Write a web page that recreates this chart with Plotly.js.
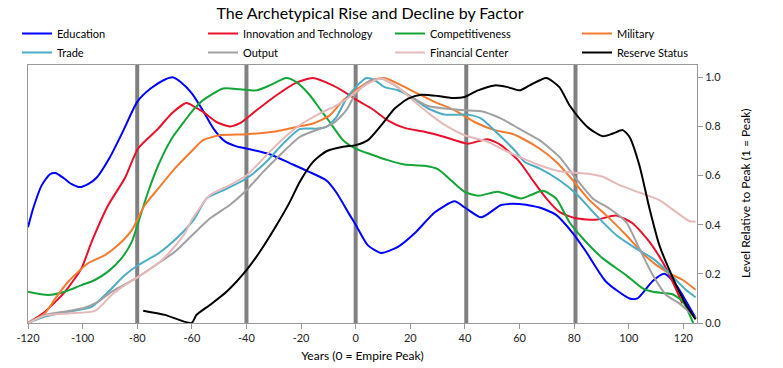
<!DOCTYPE html>
<html>
<head>
<meta charset="utf-8">
<script src="https://cdn.plot.ly/plotly-3.0.1.min.js"></script>
<style>html,body{margin:0;padding:0;background:#fff;}#chart{width:783px;height:368px;}</style>
</head>
<body>
<div id="chart"></div>
<script>
// Series names and colours
const seriesNames = ["Education","Innovation and Technology","Competitiveness","Military","Trade","Output","Financial Center","Reserve Status"];
const seriesColors = ["#0000FF","#E8102A","#13A538","#F47A30","#4BACC6","#A0A0A0","#E6B9B8","#000000"];

// Years (0 = Empire Peak) and levels
const educationX = [-120,-118,-115,-112,-110,-107,-104,-101,-98,-95,-90,-85,-80,-75,-70,-67,-64,-60,-56,-52,-48,-44,-40,-31.5,-24,-17,-10.7,-7,-2.2,0,4.4,9.4,15.5,21.6,28.9,36.2,40,46,53.3,60,67.3,73.4,79.5,84.4,91.7,100.3,103.2,108.7,113,117.3,124.5];
const educationY = [0.39,0.47,0.56,0.605,0.61,0.59,0.565,0.553,0.565,0.59,0.675,0.785,0.9,0.955,0.99,1.0,0.98,0.935,0.866,0.79,0.74,0.72,0.71,0.687,0.65,0.615,0.58,0.53,0.44,0.40,0.317,0.285,0.31,0.365,0.45,0.495,0.47,0.43,0.48,0.484,0.47,0.44,0.366,0.29,0.168,0.10,0.10,0.17,0.20,0.155,0.02];

const innovationX = [-120,-113.8,-106.5,-100.4,-96.7,-90.6,-84.5,-79.7,-72.4,-67.4,-62,-59,-56,-51,-46,-42.4,-36.3,-29,-21.7,-15.7,-8.4,-2.2,0,5.7,11.7,17.9,25.2,32.6,41,48.3,53.3,60,64.9,69.8,74.6,80.7,88,95.4,101.4,107.6,112.3,116,119.6];
const innovationY = [0,0.046,0.127,0.223,0.33,0.48,0.59,0.71,0.79,0.853,0.895,0.88,0.86,0.818,0.80,0.813,0.866,0.927,0.978,0.997,0.967,0.927,0.91,0.874,0.825,0.794,0.778,0.757,0.73,0.748,0.723,0.656,0.58,0.507,0.452,0.426,0.42,0.437,0.406,0.33,0.25,0.17,0.08];

const competitivenessX = [-120,-112.6,-106.5,-100.4,-95.5,-90.6,-85.7,-82,-79.6,-76,-72.3,-67.4,-63.8,-60,-56,-48.5,-42.4,-36.3,-31.5,-25.4,-21.7,-16.8,-13.2,-9.5,-4.6,0,5.7,11.8,17.9,25.2,30.1,35,39.9,44.8,52,60.6,64,68.5,73.4,78.3,83.2,90.5,99,105.1,108.8,116,119.8,123.6];
const competitivenessY = [0.127,0.114,0.127,0.154,0.175,0.21,0.264,0.33,0.41,0.534,0.642,0.75,0.805,0.86,0.906,0.954,0.951,0.947,0.967,0.997,0.98,0.927,0.873,0.818,0.744,0.71,0.686,0.663,0.645,0.64,0.626,0.58,0.534,0.518,0.534,0.507,0.52,0.538,0.507,0.41,0.344,0.263,0.195,0.141,0.127,0.117,0.087,0];

const militaryX = [-120,-113.8,-110,-105.3,-98,-91.8,-87,-82,-77.2,-72.3,-66.2,-60,-55.9,-49.8,-40,-30.3,-21.7,-15.6,-9.5,-4.6,0,5.7,10.6,15.5,21.6,28.9,36.2,43.5,50.9,57,60,67.3,73.4,79.5,85.6,91.7,99,106.4,113.7,119.8,124.5];
const militaryY = [0,0.04,0.10,0.168,0.243,0.276,0.317,0.378,0.48,0.547,0.629,0.70,0.744,0.764,0.768,0.778,0.798,0.812,0.845,0.906,0.947,0.988,0.997,0.974,0.94,0.90,0.866,0.818,0.785,0.771,0.757,0.71,0.656,0.581,0.50,0.439,0.358,0.27,0.209,0.175,0.135];

const tradeX = [-120,-113.8,-105.3,-96.7,-90.6,-84.5,-79.6,-72.3,-65,-59,-54.6,-48.5,-40,-32.7,-26.6,-20.5,-14.4,-10.7,-7,-3.4,0,3.9,7,10.6,15.5,20.4,26.5,32.6,41.1,46,52,58.2,61.8,67.3,74.6,80.7,88,95.4,102.7,108.8,114.9,121,124.5];
const tradeY = [0,0.026,0.046,0.066,0.127,0.195,0.236,0.283,0.351,0.425,0.507,0.54,0.588,0.656,0.73,0.789,0.791,0.798,0.839,0.913,0.96,0.997,0.988,0.96,0.947,0.92,0.873,0.848,0.848,0.832,0.771,0.703,0.656,0.629,0.581,0.527,0.439,0.358,0.303,0.263,0.202,0.134,0.105];

const outputX = [-120,-113.8,-105.3,-99.2,-94.3,-89.4,-84.5,-79.6,-72.3,-66.2,-60,-53.4,-46.1,-40,-33.9,-27.8,-20.5,-14.4,-8.3,-3.4,0,4.5,9.4,14.3,20.4,26.5,32.6,39.9,46,53.3,60,67.3,74.6,80.7,86.8,92.9,99,103.9,108.8,113.7,118.5,124.5];
const outputY = [0,0.033,0.049,0.062,0.087,0.127,0.157,0.188,0.243,0.29,0.356,0.425,0.48,0.54,0.615,0.683,0.757,0.785,0.812,0.866,0.934,0.98,0.995,0.967,0.92,0.883,0.873,0.866,0.862,0.832,0.79,0.744,0.676,0.588,0.507,0.466,0.412,0.303,0.195,0.114,0.08,0.02];

const financialX = [-120,-113.8,-105.3,-95.5,-89.4,-84.5,-79.6,-72.3,-67.4,-62.6,-60,-53.4,-46.1,-40,-32.7,-26.6,-20.5,-13.2,-7,-2.2,0,4.5,9.4,15.5,21.6,27.7,33.8,39.9,48.4,54.5,60,67.3,74.6,84.4,90.5,96.6,103.9,111.2,117.3,122.2,124.5];
const financialY = [0,0.03,0.039,0.049,0.114,0.154,0.188,0.243,0.297,0.364,0.42,0.52,0.561,0.60,0.683,0.75,0.805,0.852,0.886,0.92,0.94,0.974,0.995,0.96,0.90,0.845,0.798,0.764,0.737,0.703,0.676,0.642,0.618,0.608,0.595,0.561,0.531,0.50,0.452,0.415,0.412];

const reserveX = [-77.8,-69.9,-60.1,-58.3,-53.4,-47.3,-40,-35.1,-29,-24.1,-20.5,-15.6,-10.7,-4.6,0,4.5,9.4,14.3,19.2,24,30.1,35,39.9,44.8,50.9,55.7,60,63.7,69.8,74.6,78.3,82,85.6,90.5,94.2,97.8,100.3,103.9,107.6,111.2,116,121,124.5];
const reserveY = [0.05,0.033,0.0,0.033,0.073,0.127,0.215,0.29,0.398,0.493,0.574,0.656,0.699,0.717,0.724,0.744,0.805,0.873,0.913,0.929,0.924,0.916,0.92,0.947,0.967,0.96,0.947,0.967,0.997,0.96,0.886,0.832,0.791,0.76,0.771,0.785,0.757,0.642,0.466,0.317,0.188,0.073,0.015];

// Vertical era markers (years)
const eraLines = [-80,-40,0,40.5,80.5];
const xTicks = [-120,-100,-80,-60,-40,-20,0,20,40,60,80,100,120];
const yTicks = [0,0.2,0.4,0.6,0.8,1.0];
const yTitle = 'Level Relative to Peak (1 = Peak)';

const allX = [educationX,innovationX,competitivenessX,militaryX,tradeX,outputX,financialX,reserveX];
const allY = [educationY,innovationY,competitivenessY,militaryY,tradeY,outputY,financialY,reserveY];

const font = "Lato, 'Liberation Sans', sans-serif";
const legendIds = ['legend','legend2','legend3','legend4'];
const traces = seriesNames.map((n,i)=>({
  type:'scatter', mode:'lines', name:n, x:allX[i], y:allY[i],
  legend: legendIds[i % 4],
  line:{color:seriesColors[i], width:2, shape:'spline', smoothing:0.6},
  hoverinfo:'skip'
}));

const legendCols = [17, 203, 390, 577];
function legendAt(px){
  return {orientation:'v', xref:'container', yref:'container', x:px/783, xanchor:'left', y:1-19/368, yanchor:'top',
    bgcolor:'rgba(0,0,0,0)', borderwidth:0, font:{family:font, size:11, color:'#000'}, tracegroupgap:0, itemwidth:30, traceorder:'normal'};
}

const layout = {
  width:783, height:368,
  margin:{l:28, r:86, t:65, b:45, autoexpand:false},
  paper_bgcolor:'#fff', plot_bgcolor:'#fff',
  font:{family:font, size:11, color:'#222'},
  title:{text:'The Archetypical Rise and Decline by Factor', x:370/783, xanchor:'center', y:0.963, yanchor:'middle', font:{family:font, size:16, color:'#000'}},
  showlegend:true,
  legend:legendAt(legendCols[0]), legend2:legendAt(legendCols[1]), legend3:legendAt(legendCols[2]), legend4:legendAt(legendCols[3]),
  xaxis:{range:[-120,125], tickvals:xTicks, ticktext:xTicks.map(String), ticks:'outside', ticklen:5, tickcolor:'#999',
    showline:true, linecolor:'#999', linewidth:1, mirror:true, showgrid:false, zeroline:false,
    tickfont:{family:font, size:11, color:'#222'},
    title:{text:'Years (0 = Empire Peak)', font:{family:font, size:12, color:'#000'}, standoff:8}},
  yaxis:{range:[0,1.05], side:'right', tickvals:yTicks, ticktext:yTicks.map(v=>v.toFixed(1)), ticks:'outside', ticklen:5, tickcolor:'#999',
    showline:true, linecolor:'#999', linewidth:1, mirror:true, showgrid:false, zeroline:false,
    tickfont:{family:font, size:11, color:'#222'}},
  annotations:[{text:yTitle, xref:'paper', yref:'paper', x:(745-28)/669, y:0.5, xanchor:'center', yanchor:'middle', textangle:-90, showarrow:false,
    font:{family:font, size:12, color:'#000'}}],
  shapes: eraLines.map(v=>({type:'line', xref:'x', yref:'paper', x0:v, x1:v, y0:0, y1:1, layer:'below', line:{color:'#808080', width:4}}))
};

Plotly.newPlot('chart', traces, layout, {displayModeBar:false, staticPlot:true});
</script>
</body>
</html>
